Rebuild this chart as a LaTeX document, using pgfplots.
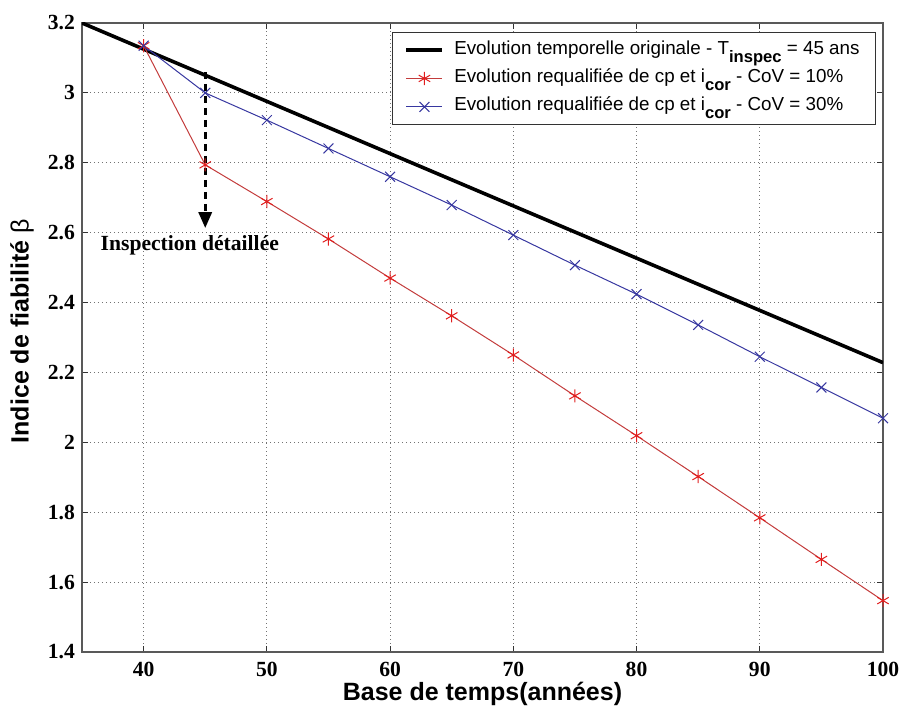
\documentclass[border=0pt]{standalone}
\usepackage{pgfplots}
\pgfplotsset{compat=1.18}
\usetikzlibrary{arrows.meta}
\usepackage{fontspec}
\setmainfont{Liberation Serif}
\newfontfamily\arial{Liberation Sans}
\definecolor{redline}{RGB}{195,60,60}
\definecolor{redmark}{RGB}{225,30,30}
\definecolor{blueline}{RGB}{55,55,160}
\newcommand\sub[1]{\raisebox{-0.8ex}{\fontsize{8.3}{9}\selectfont\bfseries #1}}
\begin{document}
\begin{tikzpicture}
\useasboundingbox (-41pt,-31.5pt) rectangle (410.5pt,326pt);
\begin{axis}[
    at={(0,0)}, anchor=south west,
    scale only axis,
    width=400.5pt, height=314.5pt,
    xmin=35, xmax=100, ymin=1.4, ymax=3.2,
    xtick={40,50,...,100},
    ytick={1.4,1.6,...,3.21},
    yticklabels={1.4,1.6,1.8,2,2.2,2.4,2.6,2.8,3,3.2},
    tick align=inside, tick pos=both,
    major tick length=3pt,
    axis line style={black!65, line width=0.6pt},
    tick style={black!80, line width=0.5pt},
    grid=major,
    grid style={black!55, line width=0.4pt, dash pattern=on 0.5pt off 1.5pt},
    /pgf/number format/assume math mode=true,
    ticklabel style={font=\fontsize{10.8}{12}\selectfont\bfseries},
    xticklabel style={yshift=-1.5pt},
    xlabel={Base de temps(années)},
    ylabel={Indice de fiabilité {\mdseries β}},
    label style={font=\arial\fontsize{12.5}{14}\selectfont\bfseries},
    xlabel style={at={(axis description cs:0.5,0)}, anchor=center, yshift=-21pt},
    ylabel style={at={(axis description cs:0,0.51)}, anchor=center, yshift=30pt},
    legend style={at={(rel axis cs:0.9913,0.9857)}, anchor=north east,
        font=\arial\fontsize{9.4}{11}\selectfont,
        draw=black!80, line width=0.5pt, inner xsep=6pt, inner ysep=2pt,
        row sep=0.5pt, column sep=3pt,
        nodes={text depth=2.8pt}},
    legend image code/.code={
        \draw[mark repeat=2, mark phase=2] plot coordinates {(0pt,0pt) (9pt,0pt) (18pt,0pt)};},
    legend cell align=left,
]
\addplot[black, line width=1.8pt] coordinates {(35,3.2) (100,2.228)};
\addlegendentry{Evolution temporelle originale - T\sub{inspec} = 45 ans}
\addplot[redline, line width=0.5pt, mark=asterisk, mark size=3.3pt,
    mark options={redmark, line width=0.5pt}] coordinates {
    (40,3.135) (45,2.794) (50,2.689) (55,2.582) (60,2.470) (65,2.362)
    (70,2.250) (75,2.133) (80,2.019) (85,1.902) (90,1.784) (95,1.665) (100,1.547)};
\addlegendentry{Evolution requalifiée de cp et i\sub{cor} - CoV = 10\%}
\addplot[blueline, line width=0.5pt, mark=x, mark size=3.5pt,
    mark options={blueline, line width=0.5pt}] coordinates {
    (40,3.135) (45,3.000) (50,2.922) (55,2.841) (60,2.760) (65,2.679)
    (70,2.593) (75,2.507) (80,2.424) (85,2.336) (90,2.245) (95,2.157) (100,2.069)};
\addlegendentry{Evolution requalifiée de cp et i\sub{cor} - CoV = 30\%}
\draw[black, line width=1.6pt, dash pattern=on 3.5pt off 2.5pt,
    -{Triangle[length=8pt, width=6.5pt]}]
    (axis cs:45,3.06) -- (axis cs:45,2.613);
\node[font=\fontsize{10.8}{12}\selectfont\bfseries, anchor=center]
    at (axis cs:43.75,2.565) {Inspection détaillée};
\end{axis}
\end{tikzpicture}
\end{document}
